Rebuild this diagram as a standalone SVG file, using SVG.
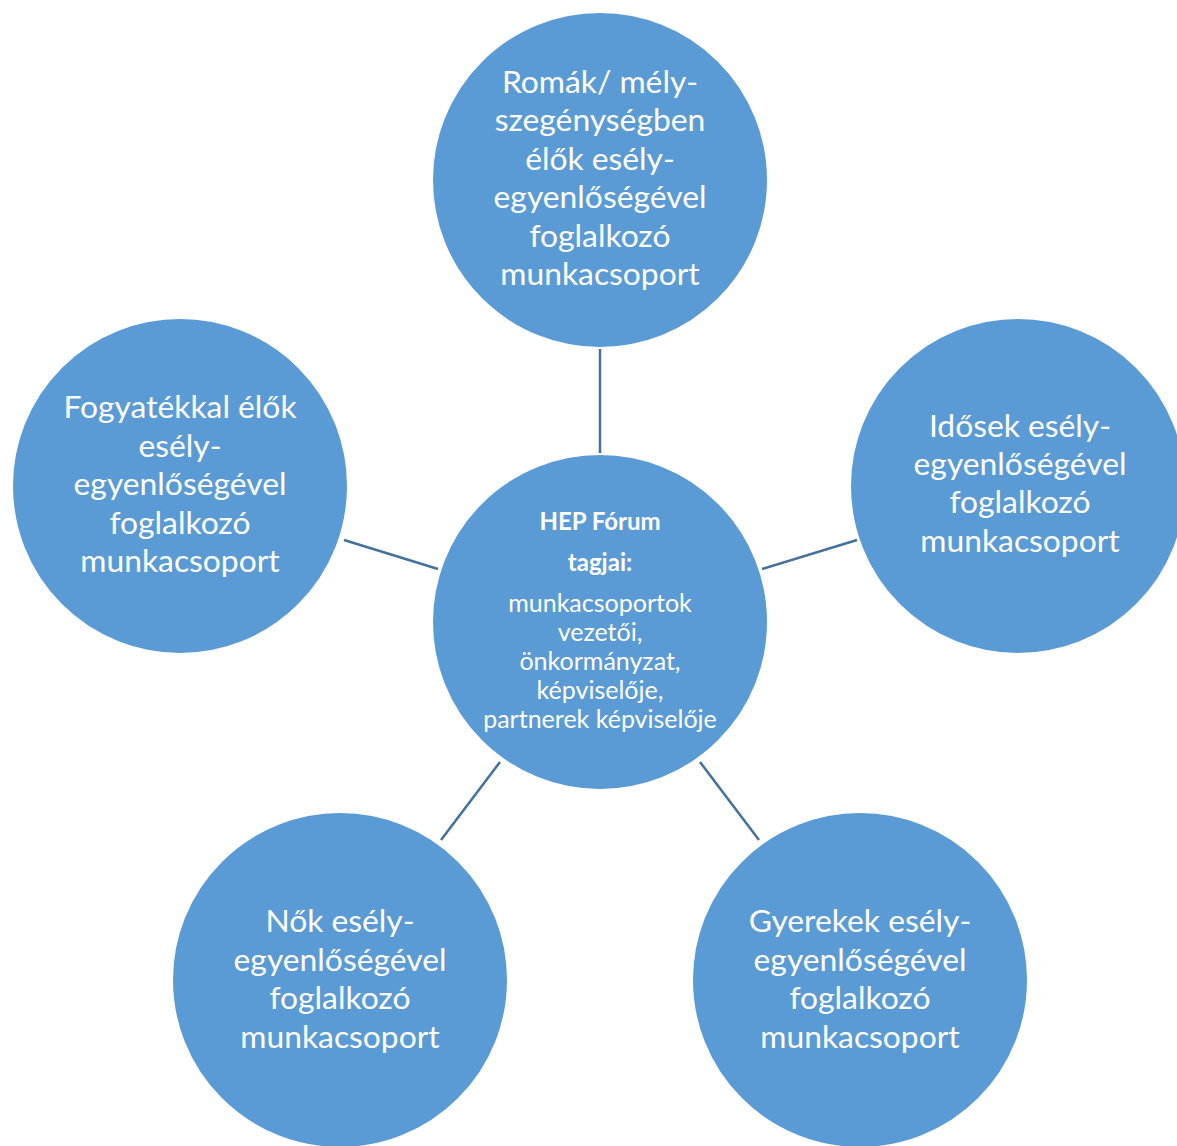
<svg xmlns="http://www.w3.org/2000/svg" width="1177" height="1146" viewBox="0 0 1177 1146">
<style>
.node{fill:#5B9BD5;stroke:#FFFFFF;stroke-width:2}
.lbl{font-family:Lato,"Open Sans","Noto Sans",sans-serif;fill:#FFFFFF;text-anchor:middle;font-size:31.8px}
.sm{font-family:Lato,"Open Sans","Noto Sans",sans-serif;fill:#FFFFFF;text-anchor:middle;font-size:25px}
.b{font-weight:bold;font-size:24px}
.conn{stroke:#41719C;stroke-width:2.5;fill:none}
</style>
<rect width="1177" height="1146" fill="#FFFFFF"/>
<g id="connectors">
<line class="conn" x1="600" y1="349" x2="600" y2="453"/>
<line class="conn" x1="344" y1="540" x2="438" y2="569"/>
<line class="conn" x1="762" y1="569" x2="857" y2="540"/>
<line class="conn" x1="500" y1="762" x2="441" y2="840"/>
<line class="conn" x1="700" y1="762" x2="759" y2="840"/>
</g>
<g id="node-top">
<circle class="node" cx="600" cy="180" r="168"/>
<text class="lbl"><tspan x="600" y="93">Romák/ mély-</tspan><tspan x="600" y="131">szegénységben</tspan><tspan x="600" y="170">élők esély-</tspan><tspan x="600" y="208">egyenlőségével</tspan><tspan x="600" y="247">foglalkozó</tspan><tspan x="600" y="285">munkacsoport</tspan></text>
</g>
<g id="node-left">
<circle class="node" cx="180" cy="486" r="168"/>
<text class="lbl"><tspan x="180" y="418">Fogyatékkal élők</tspan><tspan x="180" y="457">esély-</tspan><tspan x="180" y="495">egyenlőségével</tspan><tspan x="180" y="534">foglalkozó</tspan><tspan x="180" y="572">munkacsoport</tspan></text>
</g>
<g id="node-right">
<circle class="node" cx="1018" cy="486" r="168"/>
<text class="lbl"><tspan x="1020" y="437">Idősek esély-</tspan><tspan x="1020" y="475">egyenlőségével</tspan><tspan x="1020" y="513">foglalkozó</tspan><tspan x="1020" y="552">munkacsoport</tspan></text>
</g>
<g id="node-center">
<circle class="node" cx="600" cy="622" r="168"/>
<text class="sm b"><tspan x="600" y="530">HEP Fórum</tspan><tspan x="600" y="571">tagjai:</tspan></text>
<text class="sm"><tspan x="600" y="612">munkacsoportok</tspan><tspan x="600" y="641">vezetői,</tspan><tspan x="600" y="670">önkormányzat,</tspan><tspan x="600" y="699">képviselője,</tspan><tspan x="600" y="728">partnerek képviselője</tspan></text>
</g>
<g id="node-bottom-left">
<circle class="node" cx="340" cy="980" r="168"/>
<text class="lbl"><tspan x="340" y="932">Nők esély-</tspan><tspan x="340" y="971">egyenlőségével</tspan><tspan x="340" y="1009">foglalkozó</tspan><tspan x="340" y="1048">munkacsoport</tspan></text>
</g>
<g id="node-bottom-right">
<circle class="node" cx="860" cy="980" r="168"/>
<text class="lbl"><tspan x="860" y="932">Gyerekek esély-</tspan><tspan x="860" y="971">egyenlőségével</tspan><tspan x="860" y="1009">foglalkozó</tspan><tspan x="860" y="1048">munkacsoport</tspan></text>
</g>
</svg>
